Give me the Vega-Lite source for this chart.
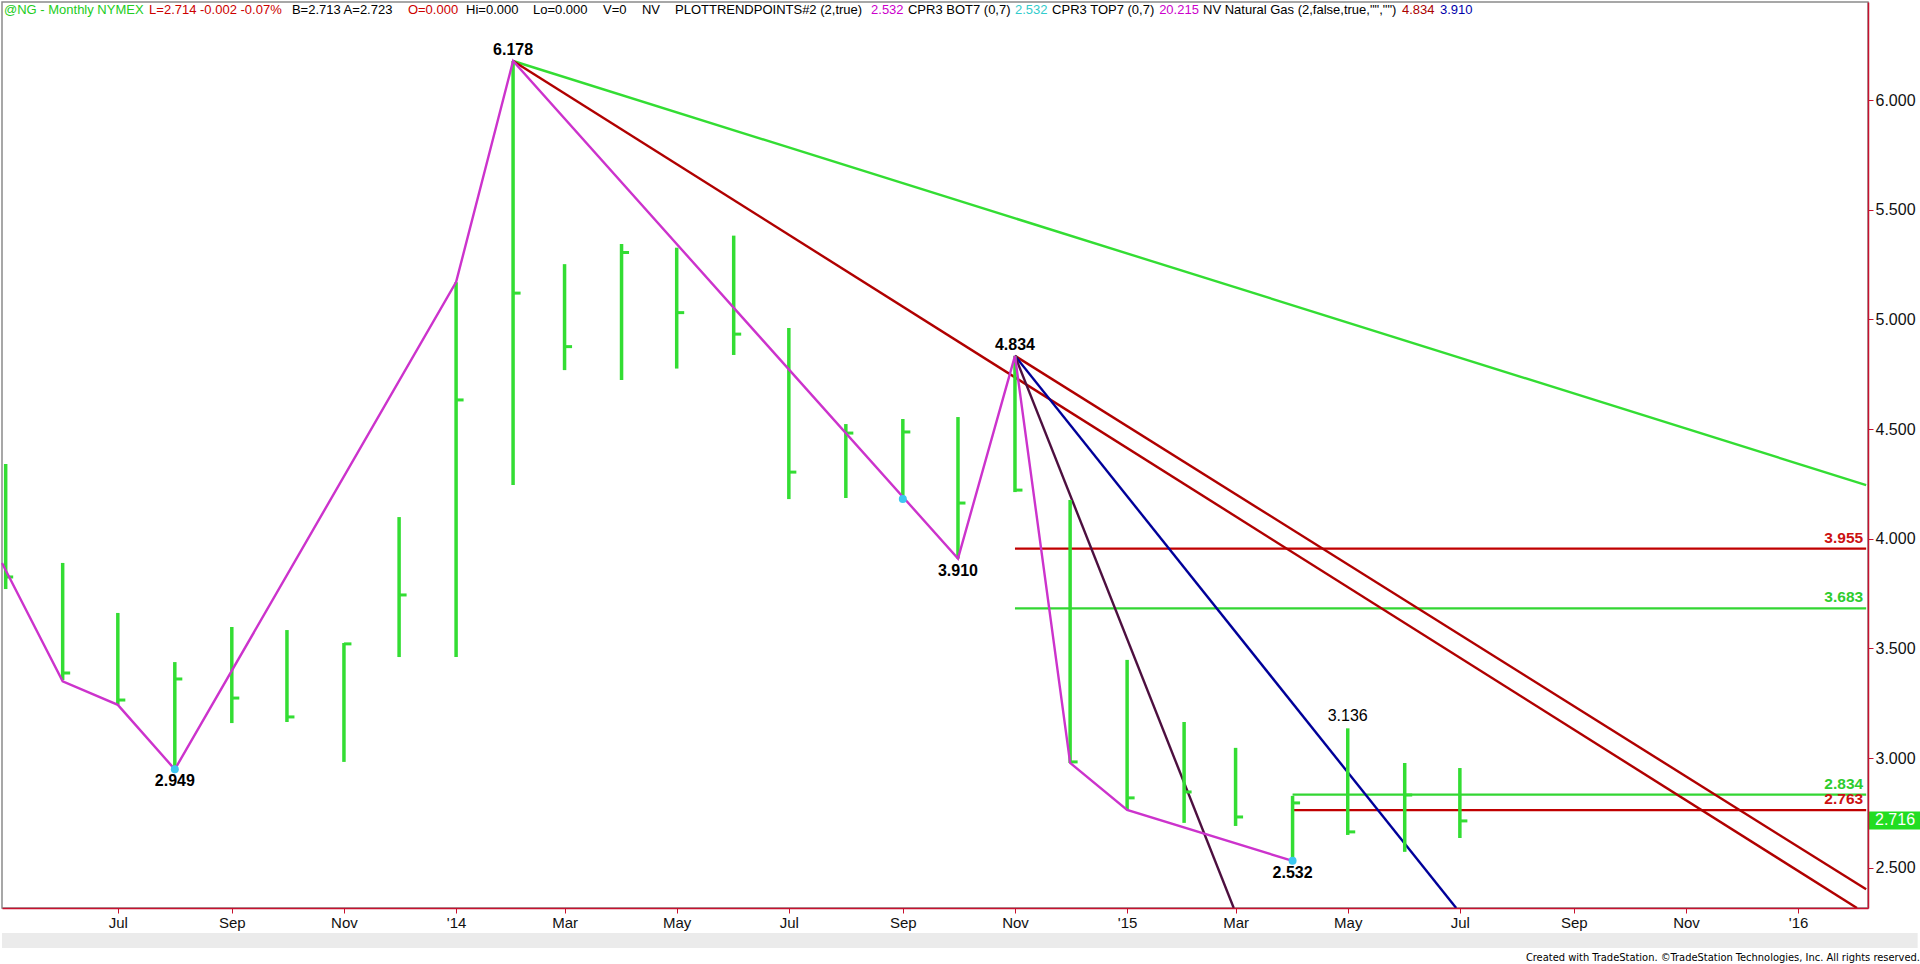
{
  "$schema": "https://vega.github.io/schema/vega-lite/v6.json",
  "width": 1866,
  "height": 906,
  "autosize": {"type": "none"},
  "padding": {"left": 2, "top": 2, "right": 52, "bottom": 56},
  "background": "white",
  "config": {
    "view": {"stroke": "#8a8a8a", "strokeWidth": 1.5},
    "font": "Liberation Sans",
    "axis": {"grid": false}
  },
  "title": {
    "text": "Created with TradeStation. ©TradeStation Technologies, Inc. All rights reserved.",
    "orient": "bottom",
    "anchor": "end",
    "frame": "bounds",
    "fontSize": 11,
    "fontWeight": "normal",
    "font": "Liberation Sans Narrow, DejaVu Sans Condensed, Liberation Sans",
    "color": "#000000",
    "offset": 4
  },
  "datasets": {
    "bars": [
      {"date": "2013-05-01", "high": 4.341, "low": 3.771, "close": 3.826},
      {"date": "2013-06-01", "high": 3.890, "low": 3.356, "close": 3.388},
      {"date": "2013-07-01", "high": 3.662, "low": 3.243, "close": 3.265},
      {"date": "2013-08-01", "high": 3.438, "low": 2.949, "close": 3.361},
      {"date": "2013-09-01", "high": 3.598, "low": 3.160, "close": 3.274},
      {"date": "2013-10-01", "high": 3.584, "low": 3.165, "close": 3.188},
      {"date": "2013-11-01", "high": 3.525, "low": 2.983, "close": 3.521},
      {"date": "2013-12-01", "high": 4.099, "low": 3.461, "close": 3.744},
      {"date": "2014-01-01", "high": 5.170, "low": 3.461, "close": 4.633},
      {"date": "2014-02-01", "high": 6.178, "low": 4.245, "close": 5.120},
      {"date": "2014-03-01", "high": 5.252, "low": 4.769, "close": 4.876},
      {"date": "2014-04-01", "high": 5.344, "low": 4.724, "close": 5.305},
      {"date": "2014-05-01", "high": 5.327, "low": 4.776, "close": 5.031},
      {"date": "2014-06-01", "high": 5.382, "low": 4.838, "close": 4.933},
      {"date": "2014-07-01", "high": 4.961, "low": 4.181, "close": 4.304},
      {"date": "2014-08-01", "high": 4.523, "low": 4.186, "close": 4.482},
      {"date": "2014-09-01", "high": 4.546, "low": 4.181, "close": 4.487},
      {"date": "2014-10-01", "high": 4.555, "low": 3.910, "close": 4.163},
      {"date": "2014-11-01", "high": 4.834, "low": 4.213, "close": 4.222},
      {"date": "2014-12-01", "high": 4.177, "low": 2.978, "close": 2.983},
      {"date": "2015-01-01", "high": 3.448, "low": 2.764, "close": 2.819},
      {"date": "2015-02-01", "high": 3.165, "low": 2.705, "close": 2.846},
      {"date": "2015-03-01", "high": 3.047, "low": 2.691, "close": 2.732},
      {"date": "2015-04-01", "high": 2.828, "low": 2.532, "close": 2.796},
      {"date": "2015-05-01", "high": 3.136, "low": 2.650, "close": 2.664},
      {"date": "2015-06-01", "high": 2.978, "low": 2.573, "close": 2.832},
      {"date": "2015-07-01", "high": 2.955, "low": 2.636, "close": 2.714}
    ],
    "zigzag": [
      {"date": "2013-04-29", "value": 3.89},
      {"date": "2013-06-01", "value": 3.35},
      {"date": "2013-07-01", "value": 3.243},
      {"date": "2013-08-01", "value": 2.949},
      {"date": "2014-01-01", "value": 5.17},
      {"date": "2014-02-01", "value": 6.178},
      {"date": "2014-10-01", "value": 3.91},
      {"date": "2014-11-01", "value": 4.834},
      {"date": "2014-12-01", "value": 2.978},
      {"date": "2015-01-01", "value": 2.764},
      {"date": "2015-04-01", "value": 2.532}
    ],
    "trend": [
      {"line": "Feb14 high long", "date": "2014-02-01", "value": 6.178},
      {"line": "Feb14 high long", "date": "2016-02-07", "value": 4.245},
      {"line": "Feb14 high", "date": "2014-02-01", "value": 6.178},
      {"line": "Feb14 high", "date": "2016-02-02", "value": 2.317},
      {"line": "Nov14 parallel", "date": "2014-11-01", "value": 4.834},
      {"line": "Nov14 parallel", "date": "2016-02-07", "value": 2.402},
      {"line": "Nov14 angle 1", "date": "2014-11-01", "value": 4.834},
      {"line": "Nov14 angle 1", "date": "2015-06-29", "value": 2.317},
      {"line": "Nov14 angle 2", "date": "2014-11-01", "value": 4.834},
      {"line": "Nov14 angle 2", "date": "2015-02-28", "value": 2.317}
    ],
    "levels": [
      {"start": "2014-11-01", "end": "2016-02-07", "value": 3.955, "level": "61.8%"},
      {"start": "2014-11-01", "end": "2016-02-07", "value": 3.683, "level": "50%"},
      {"start": "2015-04-01", "end": "2016-02-07", "value": 2.834, "level": "50%"},
      {"start": "2015-04-01", "end": "2016-02-07", "value": 2.763, "level": "61.8%"}
    ],
    "pivots": [
      {"date": "2014-02-01", "value": 6.178, "type": "high"},
      {"date": "2014-11-01", "value": 4.834, "type": "high"},
      {"date": "2015-05-01", "value": 3.136, "type": "recent"},
      {"date": "2013-08-01", "value": 2.949, "type": "low"},
      {"date": "2014-10-01", "value": 3.910, "type": "low"},
      {"date": "2015-04-01", "value": 2.532, "type": "low"}
    ],
    "markers": [
      {"date": "2013-08-01", "value": 2.949},
      {"date": "2014-09-01", "value": 4.181},
      {"date": "2015-04-01", "value": 2.532}
    ],
    "header": [
      {"date": "2013-04-30T02:00:00Z", "text": "@NG - Monthly NYMEX", "kind": "symbol"},
      {"date": "2013-07-18T00:00:00Z", "text": "L=2.714  -0.002  -0.07%", "kind": "change"},
      {"date": "2013-10-03T17:00:00Z", "text": "B=2.713  A=2.723", "kind": "quote"},
      {"date": "2013-12-05T19:00:00Z", "text": "O=0.000", "kind": "change"},
      {"date": "2014-01-06T10:00:00Z", "text": "Hi=0.000", "kind": "quote"},
      {"date": "2014-02-11T19:00:00Z", "text": "Lo=0.000", "kind": "quote"},
      {"date": "2014-03-21T22:00:00Z", "text": "V=0", "kind": "quote"},
      {"date": "2014-04-12T02:00:00Z", "text": "NV", "kind": "quote"},
      {"date": "2014-04-30T02:00:00Z", "text": "PLOTTRENDPOINTS#2 (2,true)", "kind": "quote"},
      {"date": "2014-08-14T17:00:00Z", "text": "2.532", "kind": "trendpoints"},
      {"date": "2014-09-03T19:00:00Z", "text": "CPR3 BOT7 (0,7)", "kind": "quote"},
      {"date": "2014-11-01T00:00:00Z", "text": "2.532", "kind": "bottom"},
      {"date": "2014-11-21T05:00:00Z", "text": "CPR3 TOP7 (0,7)", "kind": "quote"},
      {"date": "2015-01-18T10:00:00Z", "text": "20.215", "kind": "top"},
      {"date": "2015-02-11T07:00:00Z", "text": "NV Natural Gas (2,false,true,\"\",\"\")", "kind": "quote"},
      {"date": "2015-05-30T12:00:00Z", "text": "4.834", "kind": "nvhigh"},
      {"date": "2015-06-20T05:00:00Z", "text": "3.910", "kind": "nvlow"}
    ],
    "last": [{"price": 2.716}]
  },
  "layer": [
    {
      "data": {"name": "levels"},
      "mark": {"type": "rule", "strokeWidth": 2.2},
      "encoding": {
        "x": {
          "field": "start", "type": "temporal", "title": null,
          "scale": {"type": "utc", "nice": false, "domain": [{"year": 2013, "month": "apr", "date": 29, "utc": true}, {"year": 2016, "month": "feb", "date": 8, "utc": true}]},
          "axis": {
            "title": null,
            "values": [
              {"year": 2013, "month": "jul", "date": 1, "utc": true},
              {"year": 2013, "month": "sep", "date": 1, "utc": true},
              {"year": 2013, "month": "nov", "date": 1, "utc": true},
              {"year": 2014, "month": "jan", "date": 1, "utc": true},
              {"year": 2014, "month": "mar", "date": 1, "utc": true},
              {"year": 2014, "month": "may", "date": 1, "utc": true},
              {"year": 2014, "month": "jul", "date": 1, "utc": true},
              {"year": 2014, "month": "sep", "date": 1, "utc": true},
              {"year": 2014, "month": "nov", "date": 1, "utc": true},
              {"year": 2015, "month": "jan", "date": 1, "utc": true},
              {"year": 2015, "month": "mar", "date": 1, "utc": true},
              {"year": 2015, "month": "may", "date": 1, "utc": true},
              {"year": 2015, "month": "jul", "date": 1, "utc": true},
              {"year": 2015, "month": "sep", "date": 1, "utc": true},
              {"year": 2015, "month": "nov", "date": 1, "utc": true},
              {"year": 2016, "month": "jan", "date": 1, "utc": true}
            ],
            "labelExpr": "utcFormat(datum.value, '%m') == '01' ? \"'\" + utcFormat(datum.value, '%y') : utcFormat(datum.value, '%b')",
            "domainColor": "#c8102e", "domainWidth": 1.5,
            "tickColor": "#c8102e", "tickSize": 5, "tickWidth": 1,
            "labelFontSize": 15, "labelColor": "#111111", "labelPadding": 2,
            "labelFont": "Liberation Sans", "grid": false, "zindex": 1
          }
        },
        "x2": {"field": "end"},
        "y": {
          "field": "value", "type": "quantitative", "title": null,
          "scale": {"domain": [2.317, 6.447], "zero": false, "nice": false},
          "axis": {
            "title": null, "orient": "right",
            "values": [2.5, 3, 3.5, 4, 4.5, 5, 5.5, 6],
            "format": ".3f",
            "domainColor": "#c8102e", "domainWidth": 1.5,
            "tickColor": "#c8102e", "tickSize": 5,
            "labelFontSize": 16, "labelColor": "#111111", "labelPadding": 2,
            "labelFont": "Liberation Sans", "grid": false, "zindex": 1
          }
        },
        "color": {"field": "level", "type": "nominal", "legend": null,
          "scale": {"domain": ["50%", "61.8%"], "range": ["#33d633", "#c00000"]}}
      }
    },
    {
      "data": {"name": "trend"},
      "mark": {"type": "line", "strokeWidth": 2.4, "clip": true},
      "encoding": {
        "x": {"field": "date", "type": "temporal", "title": null},
        "y": {"field": "value", "type": "quantitative", "title": null},
        "detail": {"field": "line"},
        "color": {"field": "line", "type": "nominal", "legend": null,
          "scale": {"domain": ["Feb14 high long", "Feb14 high", "Nov14 parallel", "Nov14 angle 1", "Nov14 angle 2"],
                    "range": ["#33dd33", "#b00000", "#b00000", "#000099", "#4d0f3f"]}}
      }
    },
    {
      "data": {"name": "bars"},
      "mark": {"type": "rule", "strokeWidth": 3.5, "color": "#33dd33"},
      "encoding": {
        "x": {"field": "date", "type": "temporal", "title": null},
        "y": {"field": "low", "type": "quantitative", "title": null},
        "y2": {"field": "high"}
      }
    },
    {
      "data": {"name": "bars"},
      "mark": {"type": "tick", "orient": "horizontal", "size": 7.5, "thickness": 3, "xOffset": 3.75, "color": "#33dd33", "opacity": 1},
      "encoding": {
        "x": {"field": "date", "type": "temporal", "title": null},
        "y": {"field": "close", "type": "quantitative", "title": null}
      }
    },
    {
      "data": {"name": "zigzag"},
      "mark": {"type": "line", "strokeWidth": 2.4, "color": "#cc33cc"},
      "encoding": {
        "x": {"field": "date", "type": "temporal", "title": null},
        "y": {"field": "value", "type": "quantitative", "title": null}
      }
    },
    {
      "data": {"name": "markers"},
      "mark": {"type": "point", "filled": true, "size": 64, "color": "#3cc8f0", "opacity": 1},
      "encoding": {
        "x": {"field": "date", "type": "temporal", "title": null},
        "y": {"field": "value", "type": "quantitative", "title": null}
      }
    },
    {
      "data": {"name": "pivots"},
      "transform": [{"filter": "datum.type == 'high'"}],
      "mark": {"type": "text", "fontSize": 16, "fontWeight": "bold", "baseline": "alphabetic", "dy": -6, "color": "#000000", "font": "Liberation Sans"},
      "encoding": {
        "x": {"field": "date", "type": "temporal", "title": null},
        "y": {"field": "value", "type": "quantitative", "title": null},
        "text": {"field": "value", "type": "quantitative", "format": ".3f"}
      }
    },
    {
      "data": {"name": "pivots"},
      "transform": [{"filter": "datum.type == 'recent'"}],
      "mark": {"type": "text", "fontSize": 16, "fontWeight": "normal", "baseline": "alphabetic", "dy": -7, "color": "#000000", "font": "Liberation Sans"},
      "encoding": {
        "x": {"field": "date", "type": "temporal", "title": null},
        "y": {"field": "value", "type": "quantitative", "title": null},
        "text": {"field": "value", "type": "quantitative", "format": ".3f"}
      }
    },
    {
      "data": {"name": "pivots"},
      "transform": [{"filter": "datum.type == 'low'"}],
      "mark": {"type": "text", "fontSize": 16, "fontWeight": "bold", "baseline": "alphabetic", "dy": 17, "color": "#000000", "font": "Liberation Sans"},
      "encoding": {
        "x": {"field": "date", "type": "temporal", "title": null},
        "y": {"field": "value", "type": "quantitative", "title": null},
        "text": {"field": "value", "type": "quantitative", "format": ".3f"}
      }
    },
    {
      "data": {"name": "levels"},
      "mark": {"type": "text", "fontSize": 15.5, "fontWeight": "bold", "align": "right", "baseline": "alphabetic", "dx": -3, "dy": -6, "font": "Liberation Sans"},
      "encoding": {
        "x": {"field": "end", "type": "temporal", "title": null},
        "y": {"field": "value", "type": "quantitative", "title": null},
        "text": {"field": "value", "type": "quantitative", "format": ".3f"},
        "color": {"field": "level", "type": "nominal", "legend": null,
          "scale": {"domain": ["50%", "61.8%"], "range": ["#2ecc2e", "#cc1111"]}}
      }
    },
    {
      "data": {"name": "header"},
      "mark": {"type": "text", "fontSize": 13, "align": "left", "baseline": "middle", "font": "Liberation Sans"},
      "encoding": {
        "x": {"field": "date", "type": "temporal", "title": null},
        "y": {"datum": 6.41, "type": "quantitative", "title": null},
        "text": {"field": "text", "type": "nominal"},
        "color": {"field": "kind", "type": "nominal", "legend": null,
          "scale": {"domain": ["symbol", "change", "quote", "trendpoints", "bottom", "top", "nvhigh", "nvlow"],
                    "range": ["#22cc22", "#cc0000", "#000000", "#cc00cc", "#33cccc", "#cc00cc", "#aa0000", "#0000aa"]}}
      }
    },
    {
      "data": {"name": "last"},
      "mark": {"type": "rect", "color": "#ebebeb"},
      "encoding": {
        "x": {"datum": {"year": 2013, "month": "apr", "date": 29, "utc": true}, "type": "temporal", "title": null},
        "x2": {"datum": {"year": 2016, "month": "mar", "date": 6, "utc": true}},
        "y": {"datum": 2.203, "type": "quantitative", "title": null},
        "y2": {"datum": 2.135}
      }
    },
    {
      "data": {"name": "last"},
      "mark": {"type": "tick", "orient": "horizontal", "size": 52, "thickness": 18, "xOffset": 26, "color": "#22dd22", "opacity": 1},
      "encoding": {
        "x": {"datum": {"year": 2016, "month": "feb", "date": 8, "utc": true}, "type": "temporal", "title": null},
        "y": {"field": "price", "type": "quantitative", "title": null}
      }
    },
    {
      "data": {"name": "last"},
      "mark": {"type": "text", "fontSize": 16, "align": "left", "baseline": "middle", "dx": 7, "color": "#ffffff", "font": "Liberation Sans"},
      "encoding": {
        "x": {"datum": {"year": 2016, "month": "feb", "date": 8, "utc": true}, "type": "temporal", "title": null},
        "y": {"field": "price", "type": "quantitative", "title": null},
        "text": {"field": "price", "type": "quantitative", "format": ".3f"}
      }
    }
  ],
  "resolve": {"scale": {"color": "independent"}}
}
